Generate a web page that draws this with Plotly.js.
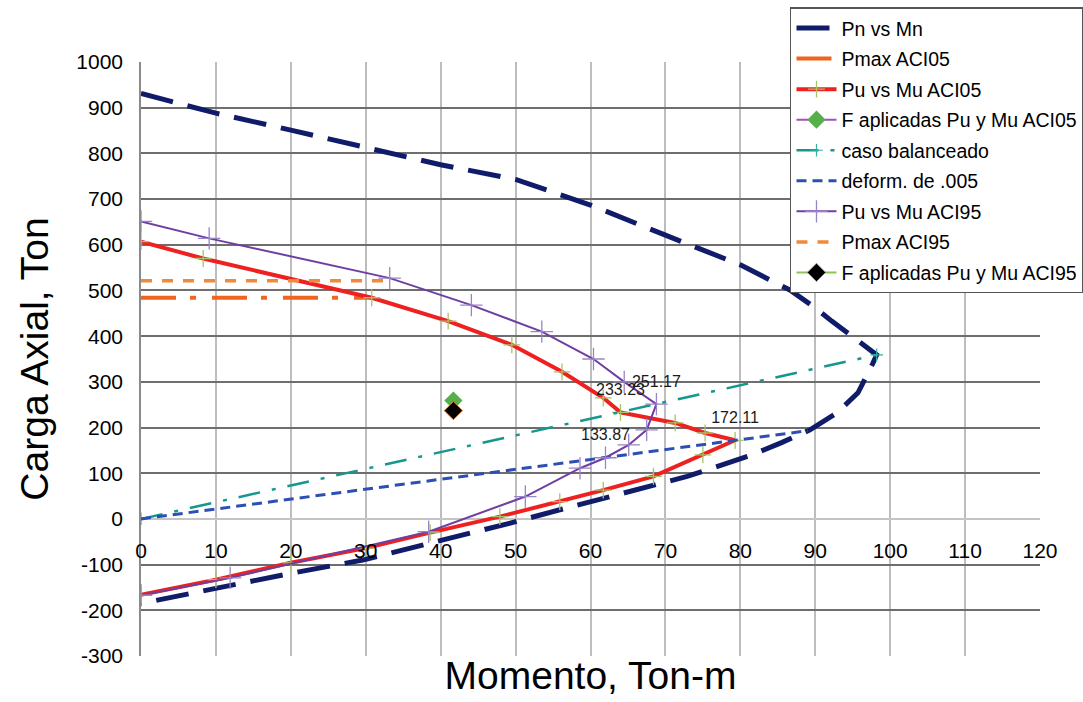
<!DOCTYPE html>
<html><head><meta charset="utf-8">
<script src="https://cdn.plot.ly/plotly-3.0.1.min.js"></script>
<style>html,body{margin:0;padding:0;background:#fff}#chart{width:1083px;height:702px}</style>
</head><body><div id="chart"></div>
<script>
// Pn vs Mn (nominal)
const pnM = [0, 10, 20, 30, 40, 50, 60, 70, 80, 86.6, 90, 92.2, 95, 98.2, 97.7, 95.7, 92.9, 89.3, 85.5, 81.5, 72.9, 63, 55.9, 49.3, 41.5, 34.6, 29.6, 20, 10, 0];
const pnP = [931, 888, 851, 813, 775, 743, 687, 621, 556, 501, 462, 433, 398, 359, 341, 276, 232, 195, 167, 140, 93, 49, 20, -9, -40, -68, -90, -119, -152, -185];
// Pmax ACI05
const pmax05M = [0, 30.8];
const pmax05P = [484, 484];
// Pu vs Mu ACI05
const pu05M = [0, 8.3, 30.8, 41, 49.5, 56.2, 61.7, 64, 71.3, 75.3, 79.3, 75, 68.4, 61.7, 55.9, 47.9, 38.6, 30, 20, 10, 0];
const pu05P = [607, 570, 484, 433, 381, 322, 265, 233.23, 210, 188, 172.11, 140, 93, 63, 38, 5, -30, -64, -96, -133, -166];
// Fuerzas aplicadas ACI05
const fa05M = [41.7];
const fa05P = [259];
// caso balanceado
const balM = [0, 98.2];
const balP = [0, 359];
// deformacion .005
const defM = [0, 89];
const defP = [0, 193];
// Pu vs Mu ACI95
const pu95M = [0, 9.1, 33.2, 44.1, 53.5, 60.4, 64.5, 68.8, 67.5, 65.1, 62, 58.6, 51.3, 38.4, 11.9, 0];
const pu95P = [651, 614, 527, 468, 410, 350, 300, 251.17, 195, 162, 133.87, 111, 49, -28, -129, -167];
// Pmax ACI95
const pmax95M = [0, 33.2];
const pmax95P = [521, 521];
// Fuerzas aplicadas ACI95
const fa95M = [41.7];
const fa95P = [237];
// labelled points
const labels05 = [233.23, 172.11];
const labels95 = [251.17, 133.87];
// axis ticks
const xTicks = [0, 10, 20, 30, 40, 50, 60, 70, 80, 90, 100, 110, 120];
const yTicks = [-300, -200, -100, 0, 100, 200, 300, 400, 500, 600, 700, 800, 900, 1000];

const FONT = '"Liberation Sans", Arial, sans-serif';

function pick(M, P, list) {
  const xs = [], ys = [], ts = [];
  P.forEach((v, i) => { if (list.includes(v)) { xs.push(M[i]); ys.push(v); ts.push(v.toFixed(2)); } });
  return {xs, ys, ts};
}
const l05 = pick(pu05M, pu05P, labels05);
const l95 = pick(pu95M, pu95P, labels95);

const traces = [
  {name: 'Pn vs Mn', x: pnM, y: pnP, mode: 'lines', legendgroup: 'a',
   line: {color: '#101c6a', width: 5, dash: '33px,15px'}},
  {name: 'Pmax ACI05', x: pmax05M, y: pmax05P, mode: 'lines', legendgroup: 'b',
   line: {color: '#f06420', width: 4, dash: '35px,14px,6px,16px'}},
  {name: 'Pu vs Mu ACI05', x: pu05M, y: pu05P, mode: 'lines+markers', legendgroup: 'c',
   line: {color: '#ee2020', width: 4},
   marker: {symbol: 'cross-thin-open', size: 12, color: '#a8c464', line: {width: 1.3}}},
  {name: 'F aplicadas Pu y Mu ACI05', x: fa05M, y: fa05P, mode: 'lines+markers', legendgroup: 'd',
   line: {color: '#a54cc4', width: 2},
   marker: {symbol: 'diamond', size: 14, color: '#56b04a', line: {width: 0}}},
  {name: 'caso balanceado', x: balM, y: balP, mode: 'lines+markers', legendgroup: 'e',
   line: {color: '#15978c', width: 2.5, dash: '22px,12px,4px,12px'},
   marker: {symbol: 'cross-thin-open', size: 9, color: '#35b0a6', line: {width: 1.2}}},
  {name: 'deform. de .005', x: defM, y: defP, mode: 'lines', legendgroup: 'f',
   line: {color: '#2c4fb3', width: 3, dash: '10px,6px'}},
  {name: 'Pu vs Mu ACI95', x: pu95M, y: pu95P, mode: 'lines+markers', legendgroup: 'g',
   line: {color: '#6f3fa0', width: 2},
   marker: {symbol: 'cross-thin-open', size: 16, color: '#9a84c8', line: {width: 1.3}}},
  {name: 'Pmax ACI95', x: pmax95M, y: pmax95P, mode: 'lines', legendgroup: 'h',
   line: {color: '#ef8a3a', width: 3.5, dash: '11px,10px'}},
  {name: 'F aplicadas Pu y Mu ACI95', x: fa95M, y: fa95P, mode: 'lines+markers', legendgroup: 'i',
   line: {color: '#8cc45a', width: 2},
   marker: {symbol: 'diamond', size: 14, color: '#000000', line: {width: 1, color: '#c8783a'}}},
  {x: l05.xs, y: l05.ys, text: l05.ts, mode: 'markers+text', showlegend: false, hoverinfo: 'skip',
   textposition: 'top center', textfont: {size: 16, color: '#1a1a1a', family: FONT},
   marker: {size: 20, color: 'rgba(0,0,0,0)'}},
  {x: l95.xs, y: l95.ys, text: l95.ts, mode: 'markers+text', showlegend: false, hoverinfo: 'skip',
   textposition: 'top center', textfont: {size: 16, color: '#1a1a1a', family: FONT},
   marker: {size: 20, color: 'rgba(0,0,0,0)'}}
];

const yMin = -300, yMax = 1000;
const layout = {
  width: 1083, height: 702,
  margin: {l: 141, r: 43, t: 62, b: 46, pad: 0, autoexpand: false},
  paper_bgcolor: '#ffffff', plot_bgcolor: '#ffffff',
  font: {family: FONT, color: '#000'},
  showlegend: true,
  xaxis: {
    range: [0, 120], tickvals: xTicks, ticktext: xTicks.map(String),
    anchor: 'free', position: (0 - yMin) / (yMax - yMin),
    showline: false, zeroline: false,
    showgrid: true, gridcolor: '#bdbdbd', gridwidth: 1.5,
    ticks: 'outside', ticklen: 13, tickcolor: 'rgba(0,0,0,0)',
    tickfont: {size: 21, family: FONT, color: '#000'},
    title: {text: 'Momento, Ton-m', font: {size: 39, family: FONT, color: '#000'}, standoff: 100},
    automargin: false
  },
  yaxis: {
    range: [yMin, yMax], tickvals: yTicks, ticktext: yTicks.map(String),
    showline: true, linecolor: '#8a8a8a', linewidth: 1.5,
    zeroline: true, zerolinecolor: '#c4c4c4', zerolinewidth: 1.5,
    showgrid: true, gridcolor: '#6e6e6e', gridwidth: 1.5,
    ticks: 'outside', ticklen: 12, tickcolor: 'rgba(0,0,0,0)',
    tickfont: {size: 21, family: FONT, color: '#000'},
    title: {text: 'Carga Axial, Ton', font: {size: 39, family: FONT, color: '#000'}, standoff: 16},
    automargin: false
  },
  legend: {
    x: 0.7219, y: 1.092, xanchor: 'left', yanchor: 'top',
    bgcolor: '#ffffff', bordercolor: '#555555', borderwidth: 1.5,
    font: {size: 19.5, family: FONT, color: '#000'},
    itemwidth: 40, traceorder: 'grouped', tracegroupgap: 2.2
  }
};

Plotly.newPlot('chart', traces, layout, {displayModeBar: false, responsive: false});
</script>
</body></html>
